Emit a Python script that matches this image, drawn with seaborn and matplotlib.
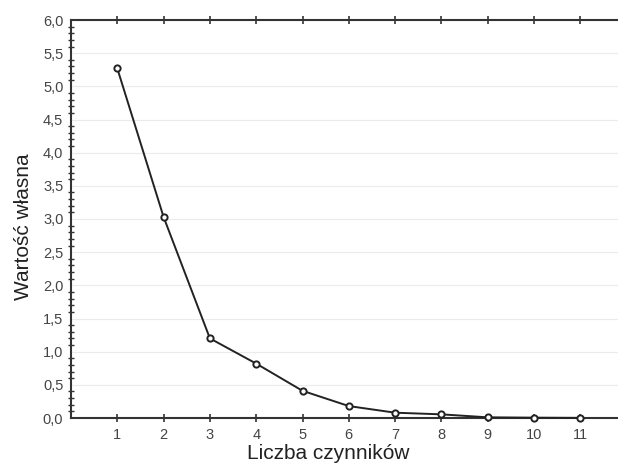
import matplotlib
matplotlib.use("Agg")
import matplotlib.pyplot as plt
from matplotlib.ticker import MultipleLocator, FuncFormatter
import pandas as pd
import seaborn as sns

# scree plot data
factors = [1, 2, 3, 4, 5, 6, 7, 8, 9, 10, 11]
eigenvalues = [5.27, 3.03, 1.20, 0.82, 0.41, 0.18, 0.08, 0.055, 0.01, 0.005, 0.002]

df = pd.DataFrame({'factor': factors, 'eigen': eigenvalues})

sns.set_style('white')
plt.rcParams['font.family'] = ['Liberation Sans', 'DejaVu Sans']

fig = plt.figure(figsize=(6.18, 4.71), dpi=100)
ax = fig.add_axes([71 / 618, 53 / 471, 547 / 618, 398 / 471])

sns.lineplot(data=df, x='factor', y='eigen', ax=ax, color='#222222', linewidth=1.4,
             marker='o', markersize=4.5, markerfacecolor='white', markeredgecolor='#222222',
             markeredgewidth=1.4, clip_on=False, zorder=3)

ax.set_xlim(0, 547 / 46.3)
ax.set_ylim(0, 6.0)
ax.set_xticks(factors)
ax.yaxis.set_major_locator(MultipleLocator(0.5))
ax.yaxis.set_minor_locator(MultipleLocator(0.1))
ax.yaxis.set_major_formatter(FuncFormatter(lambda v, p: f'{v:.1f}'.replace('.', ',')))

ax.grid(axis='y', color='#ebebeb', linewidth=0.8)
ax.set_axisbelow(True)

for side in ['left', 'bottom', 'top']:
    ax.spines[side].set_visible(True)
    ax.spines[side].set_color('#333333')
    ax.spines[side].set_linewidth(1.5)
ax.spines['right'].set_visible(False)

tick_font = ['Liberation Sans Narrow', 'Liberation Sans', 'DejaVu Sans']
ax.tick_params(axis='x', which='major', direction='inout', length=6, width=1.2,
               color='#333333', labelsize=10.5, labelcolor='#444444', pad=4,
               top=True, bottom=True)
ax.tick_params(axis='y', which='major', direction='inout', length=5, width=1.2,
               color='#333333', labelsize=10.5, labelcolor='#444444', pad=3)
ax.tick_params(axis='y', which='minor', direction='inout', length=4, width=1.0,
               color='#333333', left=True)
for lab in ax.get_xticklabels() + ax.get_yticklabels():
    lab.set_family(tick_font)

ax.set_xlabel('Liczba czynników', fontsize=15, color='#222222')
ax.set_ylabel('Wartość własna', fontsize=15, color='#222222')
ax.xaxis.set_label_coords((328 - 71) / 547, -0.065)
ax.yaxis.set_label_coords(-0.07, 0.48)

fig.savefig('out.png', dpi=100)
